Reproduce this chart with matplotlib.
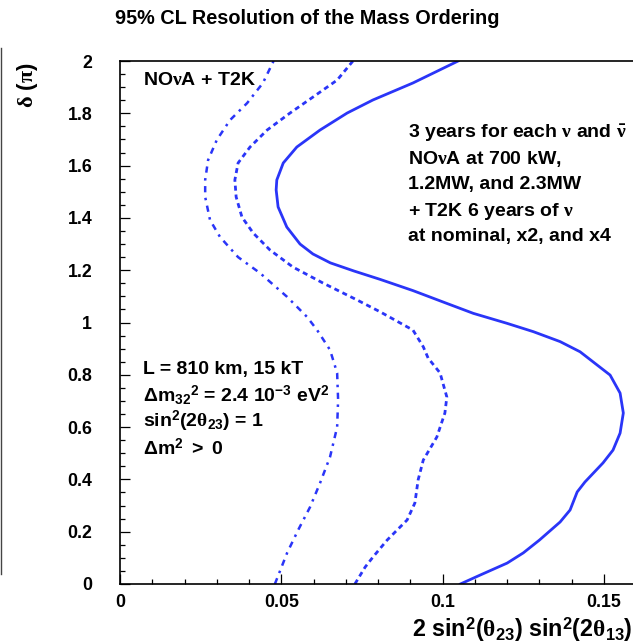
import matplotlib
matplotlib.use("Agg")
import matplotlib.pyplot as plt
from matplotlib.lines import Line2D
from matplotlib.ticker import MultipleLocator

# Bold Helvetica-like text, serif Greek letters inside mathtext
plt.rcParams['font.family'] = ['Liberation Sans', 'DejaVu Sans']
plt.rcParams['font.weight'] = 'bold'
plt.rcParams['mathtext.fontset'] = 'custom'
plt.rcParams['mathtext.rm'] = 'Liberation Sans:bold'
plt.rcParams['mathtext.bf'] = 'Liberation Sans:bold'
plt.rcParams['mathtext.it'] = 'Liberation Serif'

# 95% CL contours: delta (units of pi) vs 2 sin^2(theta23) sin^2(2theta13)
# nominal beams
nominal_delta = [0.0, 0.119, 0.206, 0.294, 0.386, 0.486, 0.600, 0.704, 0.807, 0.895,
                 0.971, 1.021, 1.098, 1.189, 1.250, 1.327, 1.392, 1.480, 1.545, 1.621,
                 1.698, 1.774, 1.839, 1.916, 2.0]
nominal_x = [0.0480, 0.0518, 0.0552, 0.0589, 0.0620, 0.0651, 0.0673, 0.0676, 0.0673, 0.0651,
             0.0611, 0.0580, 0.0518, 0.0434, 0.0366, 0.0310, 0.0279, 0.0264, 0.0264, 0.0273,
             0.0300, 0.0341, 0.0394, 0.0443, 0.0476]

# x2 beams
double_delta = [0.0, 0.065, 0.103, 0.168, 0.245, 0.310, 0.398, 0.474, 0.562, 0.654,
                0.715, 0.807, 0.864, 0.907, 0.971, 1.041, 1.086, 1.151, 1.212, 1.277,
                1.342, 1.403, 1.480, 1.545, 1.610, 1.671, 1.736, 1.801, 1.862, 1.927, 2.0]
double_x = [0.0728, 0.0760, 0.0784, 0.0828, 0.0890, 0.0914, 0.0924, 0.0940, 0.0982, 0.1007,
            0.1013, 0.0992, 0.0955, 0.0940, 0.0908, 0.0806, 0.0735, 0.0629, 0.0536, 0.0465,
            0.0413, 0.0378, 0.0360, 0.0356, 0.0366, 0.0403, 0.0456, 0.0527, 0.0598, 0.0673, 0.0722]

# x4 beams
quad_delta = [0.0, 0.034, 0.080, 0.119, 0.168, 0.237, 0.283, 0.352, 0.390, 0.463,
              0.512, 0.577, 0.654, 0.730, 0.799, 0.888, 0.927, 0.965, 0.997, 1.035,
              1.073, 1.122, 1.165, 1.197, 1.228, 1.262, 1.300, 1.365, 1.442, 1.507,
              1.545, 1.610, 1.671, 1.736, 1.801, 1.851, 1.916, 2.0]
quad_x = [0.1055, 0.1116, 0.1200, 0.1250, 0.1300, 0.1364, 0.1395, 0.1417, 0.1441, 0.1497,
          0.1528, 0.1550, 0.1560, 0.1550, 0.1519, 0.1426, 0.1364, 0.1281, 0.1199, 0.1095,
          0.1013, 0.0908, 0.0806, 0.0725, 0.0652, 0.0598, 0.0558, 0.0517, 0.0490, 0.0484,
          0.0486, 0.0506, 0.0548, 0.0620, 0.0704, 0.0784, 0.0908, 0.1048]

blue = '#2a35f8'
bold = dict(fontweight='bold')

fig = plt.figure(figsize=(6.33, 6.44), dpi=100)
ax = fig.add_axes([120 / 633, 60 / 644, 513 / 633, 523 / 644])

ax.plot(nominal_x, nominal_delta, color=blue, lw=1.8, dashes=(2.5, 2.2, 1.0, 2.2))
ax.plot(double_x, double_delta, color=blue, lw=2.0, dashes=(1.8, 1.4))
ax.plot(quad_x, quad_delta, color=blue, lw=2.0)

ax.set_xlim(0, 0.159)
ax.set_ylim(0, 2)
ax.xaxis.set_minor_locator(MultipleLocator(0.01))
ax.yaxis.set_minor_locator(MultipleLocator(0.05))
ax.set_xticks([0, 0.05, 0.1, 0.15])
ax.set_xticklabels(['0', '0.05', '0.1', '0.15'], **bold)
ax.set_yticks([0, 0.2, 0.4, 0.6, 0.8, 1.0, 1.2, 1.4, 1.6, 1.8, 2.0])
ax.set_yticklabels(['0', '0.2', '0.4', '0.6', '0.8', '1', '1.2', '1.4', '1.6', '1.8', '2'], **bold)
ax.tick_params(which='both', direction='in', width=0.9, labelsize=12.8)
ax.tick_params(which='major', length=7)
ax.tick_params(which='minor', length=3.6)
ax.tick_params(axis='y', pad=20)
ax.tick_params(axis='x', pad=7)
ax.spines['right'].set_visible(False)
for s in ['left', 'bottom', 'top']:
    ax.spines[s].set_linewidth(1.2)

ax.text(0.0071, 1.927, r'NO$\nu$A + T2K', fontsize=14, va='center', **bold)

right_lines = [r'3 years for each $\nu$ and $\bar{\nu}$',
               r'NO$\nu$A at 700 kW,',
               '1.2MW, and 2.3MW',
               r'+ T2K 6 years of $\nu$',
               'at nominal, x2, and x4']
right_y = [1.725, 1.625, 1.526, 1.423, 1.327]
for line, y in zip(right_lines, right_y):
    ax.text(0.0894, y, line, fontsize=14, va='center', **bold)

left_lines = ['L = 810 km, 15 kT',
              r'Δm$_{32}$$^{2}$ = 2.4 10$^{-3}$ eV$^{2}$',
              r'sin$^{2}$(2$\theta$$_{23}$) = 1',
              r'Δm$^{2}$ $>$ 0']
left_y = [0.822, 0.723, 0.620, 0.520]
for line, y in zip(left_lines, left_y):
    ax.text(0.0071, y, line, fontsize=14, va='center', **bold)

fig.text(307 / 633, 1 - 18 / 644, '95% CL Resolution of the Mass Ordering',
         fontsize=14.3, ha='center', va='center', **bold)
fig.text(632 / 633, 1 - 637 / 644,
         r'2 sin$^{2}$($\theta$$_{23}$) sin$^{2}$(2$\theta$$_{13}$)',
         fontsize=16.8, ha='right', va='baseline', **bold)
fig.text(27 / 633, 1 - 62 / 644, r'$\delta$ ($\pi$)', fontsize=16,
         rotation=90, ha='center', va='top')

# thin frame edge on the far left
fig.add_artist(Line2D([1.2 / 633, 1.2 / 633], [1 - 48 / 644, 1 - 574 / 644],
                      transform=fig.transFigure, color='#444444', lw=1.0))

fig.savefig('out.png', dpi=100)
